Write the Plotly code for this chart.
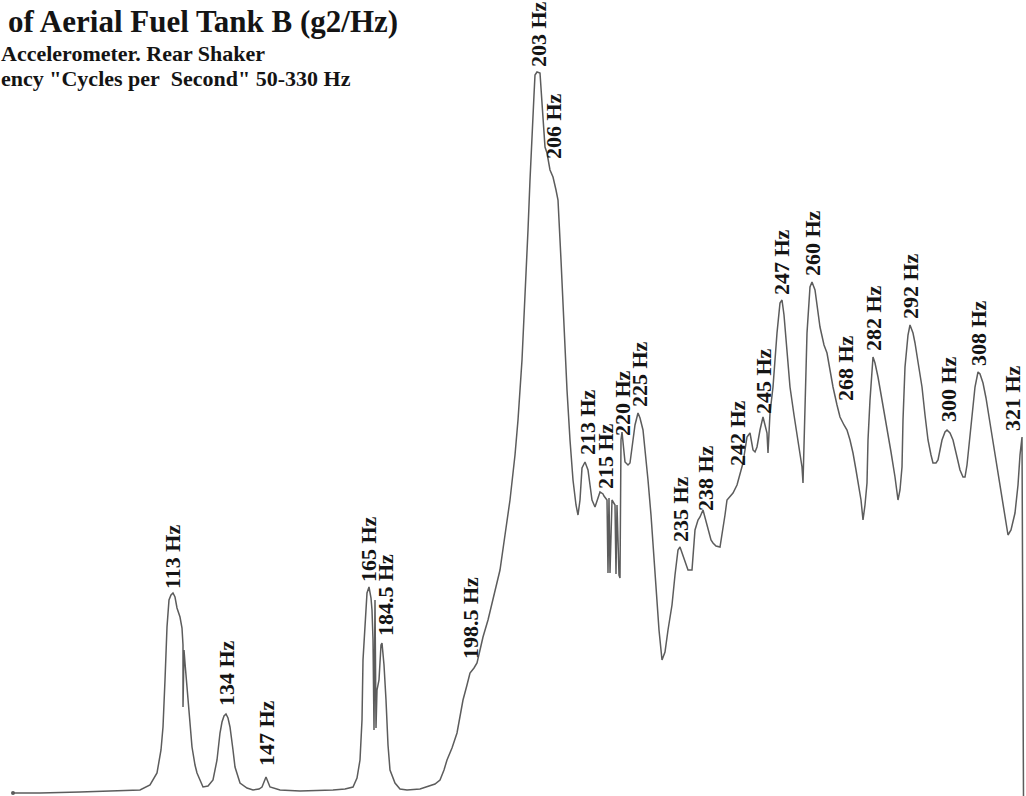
import plotly.graph_objects as go

# Spectrum trace (horizontal position along the sweep, relative level)
trace_pos = [13, 40, 80, 120, 140, 150, 157, 161, 163, 165, 167, 169, 171, 173, 175, 177, 180, 182,
             183, 183, 184, 185, 188, 190, 192, 195, 197, 203, 208, 213, 217, 220, 222, 224, 226, 228,
             230, 233, 235, 240, 247, 253, 259, 262, 264, 266, 268, 270, 280, 300, 333, 345, 353, 357,
             360, 362, 363, 365, 367, 369, 371, 372, 373, 374, 375, 376, 377, 379, 381, 382, 384, 386,
             388, 390, 395, 400, 407, 420, 427, 435, 440, 444, 447, 452, 457, 460, 463, 467, 470, 474,
             477, 480, 483, 488, 493, 497, 500, 505, 510, 515, 518, 522, 525, 528, 530, 532, 534, 535,
             537, 540, 541, 542, 545, 547, 550, 553, 556, 558, 561, 564, 567, 570, 573, 576, 578, 580,
             582, 585, 588, 590, 592, 595, 598, 600, 603, 604, 607, 608, 609, 610, 612, 615, 616, 617,
             619, 620, 621, 622, 625, 628, 630, 633, 635, 638, 640, 643, 646, 648, 651,
             653, 656, 659, 662, 665, 668, 672, 675, 678, 680, 682, 685, 688, 692, 694, 695, 698, 700,
             703, 706, 708, 711, 713, 716, 720, 723, 725, 727, 730, 733, 737, 740, 743, 745, 747, 750,
             753, 755, 757, 760, 763, 765, 767, 768, 770, 773, 775, 777, 780, 782, 784, 785, 788, 790,
             794, 797, 800, 802, 803, 805, 807, 810, 812, 815, 818, 820, 824, 827, 830, 833, 837, 840,
             844, 847, 850, 853, 856, 858, 861, 863, 865, 867, 868, 870, 872, 873, 875, 878, 882, 887,
             891, 895, 898, 900, 902, 903, 905, 908, 910, 913, 915, 918, 922, 925, 928, 931, 933, 936,
             938, 940, 942, 945, 947, 950, 953, 957, 960, 963, 965, 967, 970, 973, 975, 978, 980, 983,
             986, 990, 994, 997, 1000, 1003, 1006, 1008, 1011, 1015, 1018, 1020, 1022, 1023, 1023.5]

trace_py = [793, 793, 792, 791, 790, 785, 773, 750, 727, 680, 627, 600, 595, 593, 597, 608, 617, 628,
            645, 707, 650, 663, 703, 730, 747, 765, 773, 787, 786, 780, 760, 733, 722, 716, 714, 718,
            727, 750, 767, 783, 788, 790, 789, 787, 782, 777, 782, 787, 790, 791, 790, 789, 787, 778,
            760, 720, 660, 620, 593, 587, 598, 610, 640, 730, 600, 728, 690, 680, 645, 643, 665, 700,
            745, 770, 783, 789, 790, 789, 787, 784, 780, 770, 760, 748, 733, 718, 700, 685, 673, 668,
            663, 650, 637, 620, 600, 585, 570, 535, 500, 455, 420, 360, 300, 230, 180, 130, 95, 75,
            72, 73, 85, 103, 147, 153, 170, 177, 190, 200, 260, 330, 390, 440, 480, 505, 515, 500,
            468, 462, 470, 485, 500, 507, 498, 492, 494, 496, 500, 573, 498, 573, 500, 505, 574, 505,
            575, 578, 440, 432, 462, 465, 463, 440, 425, 413, 418, 430, 458, 480, 515,
            543, 590, 630, 660, 652, 630, 605, 575, 550, 547, 553, 563, 570, 570, 545, 530, 520, 517,
            510, 522, 530, 540, 543, 546, 547, 530, 515, 500, 497, 493, 485, 473, 463, 450, 437, 433,
            450, 452, 447, 430, 417, 425, 433, 453, 413, 387, 360, 333, 303, 300, 315, 327, 365, 387,
            415, 433, 455, 467, 483, 417, 333, 287, 282, 290, 310, 327, 345, 353, 370, 387, 405, 417,
            425, 430, 440, 453, 470, 483, 500, 520, 505, 483, 440, 400, 365, 357, 363, 377, 400, 427,
            452, 477, 500, 490, 467, 420, 367, 335, 325, 333, 343, 362, 387, 415, 440, 455, 463, 463,
            460, 450, 440, 432, 430, 433, 440, 457, 470, 477, 477, 465, 433, 405, 387, 372, 374, 383,
            398, 423, 448, 467, 485, 507, 527, 535, 530, 513, 485, 455, 437, 600, 800]

CHART_TOP = 796
trace_level = [CHART_TOP - v for v in trace_py]

# Peak annotations: text, horizontal position, level at the foot of the label
peak_labels = ["113 Hz", "134 Hz", "147 Hz", "165 Hz", "184.5 Hz", "198.5 Hz", "203 Hz", "206 Hz",
               "213 Hz", "215 Hz", "220 Hz", "225 Hz", "235 Hz", "238 Hz", "242 Hz", "245 Hz",
               "247 Hz", "260 Hz", "268 Hz", "282 Hz", "292 Hz", "300 Hz", "308 Hz", "321 Hz"]
label_pos = [172, 226, 266, 368, 385, 470, 538, 553, 587, 605, 622, 639, 680, 705, 737, 763,
             781, 812, 845, 873, 910, 948, 978, 1012]
label_py = [590, 707, 767, 583, 637, 660, 68, 160, 456, 490, 437, 408, 543, 512, 467, 415,
            296, 277, 402, 352, 320, 423, 367, 432]
label_level = [CHART_TOP - v for v in label_py]

title_text = "of Aerial Fuel Tank B (g2/Hz)"
subtitle_1 = "Accelerometer. Rear Shaker"
subtitle_2 = "ency \"Cycles per&nbsp; Second\" 50-330 Hz"

LINE = "#5c5c5c"
INK = "#141414"
SERIF = "Liberation Serif"

fig = go.Figure()
fig.add_trace(go.Scatter(x=trace_pos, y=trace_level, mode="lines",
                         line=dict(color=LINE, width=1.5), hoverinfo="skip", showlegend=False))
fig.add_trace(go.Scatter(x=trace_pos[:1], y=trace_level[:1], mode="markers",
                         marker=dict(color=LINE, size=4), hoverinfo="skip", showlegend=False))

for txt, xp, yl in zip(peak_labels, label_pos, label_level):
    fig.add_annotation(x=xp, y=yl, xref="x", yref="y", text="<b>" + txt + "</b>",
                       textangle=-90, showarrow=False, xanchor="center", yanchor="bottom",
                       font=dict(family=SERIF, size=22, color=INK), borderpad=0)

fig.add_annotation(x=7 / 1026, y=1 - 22 / 796, xref="paper", yref="paper",
                   text="<b>" + title_text + "</b>", showarrow=False,
                   xanchor="left", yanchor="middle", borderpad=0,
                   font=dict(family=SERIF, size=31, color=INK))
fig.add_annotation(x=0, y=1 - 53 / 796, xref="paper", yref="paper",
                   text="<b>" + subtitle_1 + "</b>", showarrow=False,
                   xanchor="left", yanchor="middle", borderpad=0,
                   font=dict(family=SERIF, size=22, color=INK))
fig.add_annotation(x=0, y=1 - 78 / 796, xref="paper", yref="paper",
                   text="<b>" + subtitle_2 + "</b>", showarrow=False,
                   xanchor="left", yanchor="middle", borderpad=0,
                   font=dict(family=SERIF, size=22, color=INK))

fig.update_layout(
    width=1026, height=796,
    margin=dict(l=0, r=0, t=0, b=0),
    paper_bgcolor="white", plot_bgcolor="white",
    xaxis=dict(range=[0, 1026], visible=False, fixedrange=True),
    yaxis=dict(range=[0, CHART_TOP], visible=False, fixedrange=True),
    showlegend=False,
)

fig.write_html("out.html", config={"displayModeBar": False},
               post_script="document.body.style.margin='0';document.body.style.overflow='hidden';")
